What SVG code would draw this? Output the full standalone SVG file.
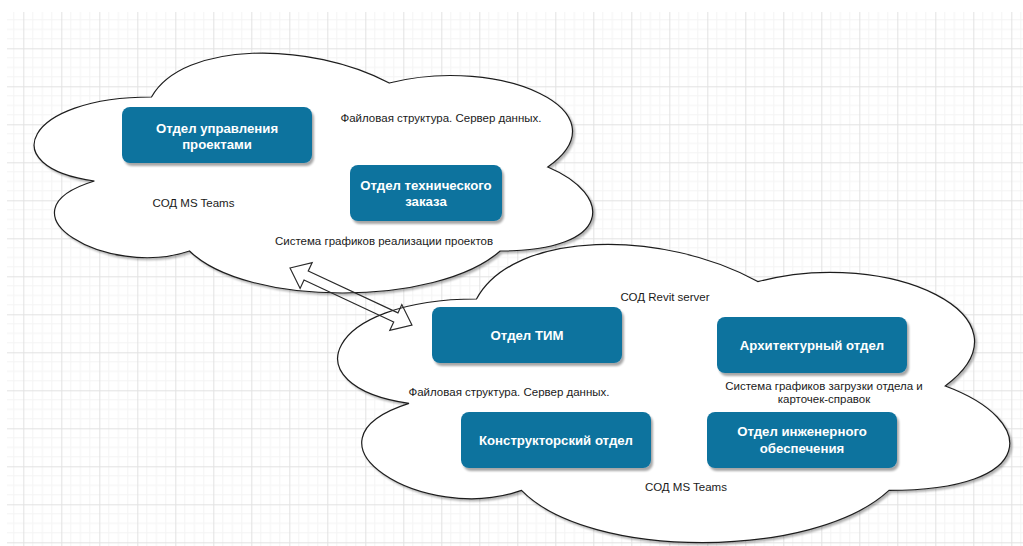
<svg xmlns="http://www.w3.org/2000/svg" width="1023" height="546" viewBox="0 0 1023 546">
  <style>
    .cloud { fill: #ffffff; stroke: #1e1e1e; stroke-width: 1.2; filter: url(#softShadow); }
    .box { fill: #10739e; filter: url(#boxShadow); }
    .boxText { font-family: "Liberation Sans", Arial, sans-serif; font-size: 13.2px; font-weight: bold; fill: #ffffff; text-anchor: middle; }
    .label { font-family: "Liberation Sans", Arial, sans-serif; font-size: 11.5px; fill: #1a1a1a; text-anchor: middle; }
    .link { fill: none; stroke: #2a2a2a; stroke-width: 1.2; stroke-linejoin: miter; }
  </style>
  <defs>
    <pattern id="grid" patternUnits="userSpaceOnUse" x="23.3" y="48.3" width="38" height="38">
      <path d="M9.5,0V38M19,0V38M28.5,0V38M0,9.5H38M0,19H38M0,28.5H38" stroke="#f4f4f4" stroke-width="1" fill="none"/>
      <path d="M0.5,0V38M0,0.5H38" stroke="#e2e2e2" stroke-width="1" fill="none"/>
    </pattern>
    <filter id="softShadow" x="-5%" y="-5%" width="110%" height="115%">
      <feGaussianBlur in="SourceAlpha" stdDeviation="1"/>
      <feOffset dx="2" dy="2" result="off"/>
      <feComponentTransfer><feFuncA type="linear" slope="0.3"/></feComponentTransfer>
      <feMerge><feMergeNode/><feMergeNode in="SourceGraphic"/></feMerge>
    </filter>
    <filter id="boxShadow" x="-10%" y="-20%" width="125%" height="150%">
      <feGaussianBlur in="SourceAlpha" stdDeviation="1.2"/>
      <feOffset dx="2" dy="3" result="off"/>
      <feComponentTransfer><feFuncA type="linear" slope="0.35"/></feComponentTransfer>
      <feMerge><feMergeNode/><feMergeNode in="SourceGraphic"/></feMerge>
    </filter>
  </defs>

  <!-- canvas -->
  <rect x="0" y="0" width="1023" height="546" fill="#ffffff"/>
  <rect x="7" y="12" width="1016" height="534" fill="url(#grid)"/>

  <!-- upper cloud: project management side -->
  <g id="cloud-top">
    <path class="cloud" d="M151.5,97 C24.7,97 -7,167 94.4,181 C-7,211.8 107.1,279 189.5,251 C246.6,307 436.8,307 500.2,251 C614,251 614,195 547.75,167 C627,111 500.2,55 389.25,83 C310,41 183.2,41 151.5,97 Z"/>
    <text class="label" x="441" y="121.5">Файловая структура. Сервер данных.</text>
    <text class="label" x="193.5" y="206.5">СОД MS Teams</text>
    <text class="label" x="384" y="245">Система графиков реализации проектов</text>
  </g>

  <!-- lower cloud: design departments -->
  <g id="cloud-bottom">
    <path class="cloud" d="M476.5,299 C326.5,299 289,386 409,403.4 C289,441.7 424,525.2 521.5,490.4 C589,560 814,560 889,490.4 C1039,490.4 1039,420.8 945.25,386 C1039,316.4 889,246.8 757.75,281.6 C664,229.4 514,229.4 476.5,299 Z"/>
    <text class="label" x="665" y="301">СОД Revit server</text>
    <text class="label" x="509" y="396">Файловая структура. Сервер данных.</text>
    <text class="label" x="824" y="390">Система графиков загрузки отдела и</text>
    <text class="label" x="824" y="403.3">карточек-справок</text>
    <text class="label" x="686" y="491">СОД MS Teams</text>
  </g>

  <g id="node-pm">
    <rect class="box" x="122" y="107" width="190" height="56" rx="8"/>
    <text class="boxText" x="217" y="132.5">Отдел управления</text>
    <text class="boxText" x="217" y="149">проектами</text>
  </g>
  <g id="node-tz">
    <rect class="box" x="350" y="165" width="152" height="56" rx="8"/>
    <text class="boxText" x="426" y="189.5">Отдел технического</text>
    <text class="boxText" x="426" y="206">заказа</text>
  </g>
  <g id="node-tim">
    <rect class="box" x="432" y="307" width="190" height="56" rx="8"/>
    <text class="boxText" x="527" y="339.5">Отдел ТИМ</text>
  </g>
  <g id="node-arch">
    <rect class="box" x="717" y="317" width="190" height="56" rx="8"/>
    <text class="boxText" x="812" y="349.5">Архитектурный отдел</text>
  </g>
  <g id="node-kr">
    <rect class="box" x="461" y="412" width="190" height="56" rx="8"/>
    <text class="boxText" x="556" y="444.5">Конструкторский отдел</text>
  </g>
  <g id="node-eng">
    <rect class="box" x="707" y="412" width="190" height="56" rx="8"/>
    <text class="boxText" x="802" y="436">Отдел инженерного</text>
    <text class="boxText" x="802" y="452.5">обеспечения</text>
  </g>

  <!-- two-way flex arrow between the clouds -->
  <g id="connectors">
    <polygon class="link" transform="translate(290,268) rotate(25.04)" points="0,0 17.8,-14.2 17.8,-5 116.8,-5 116.8,-14.2 134.6,0 116.8,14.2 116.8,5 17.8,5 17.8,14.2"/>
  </g>
</svg>
